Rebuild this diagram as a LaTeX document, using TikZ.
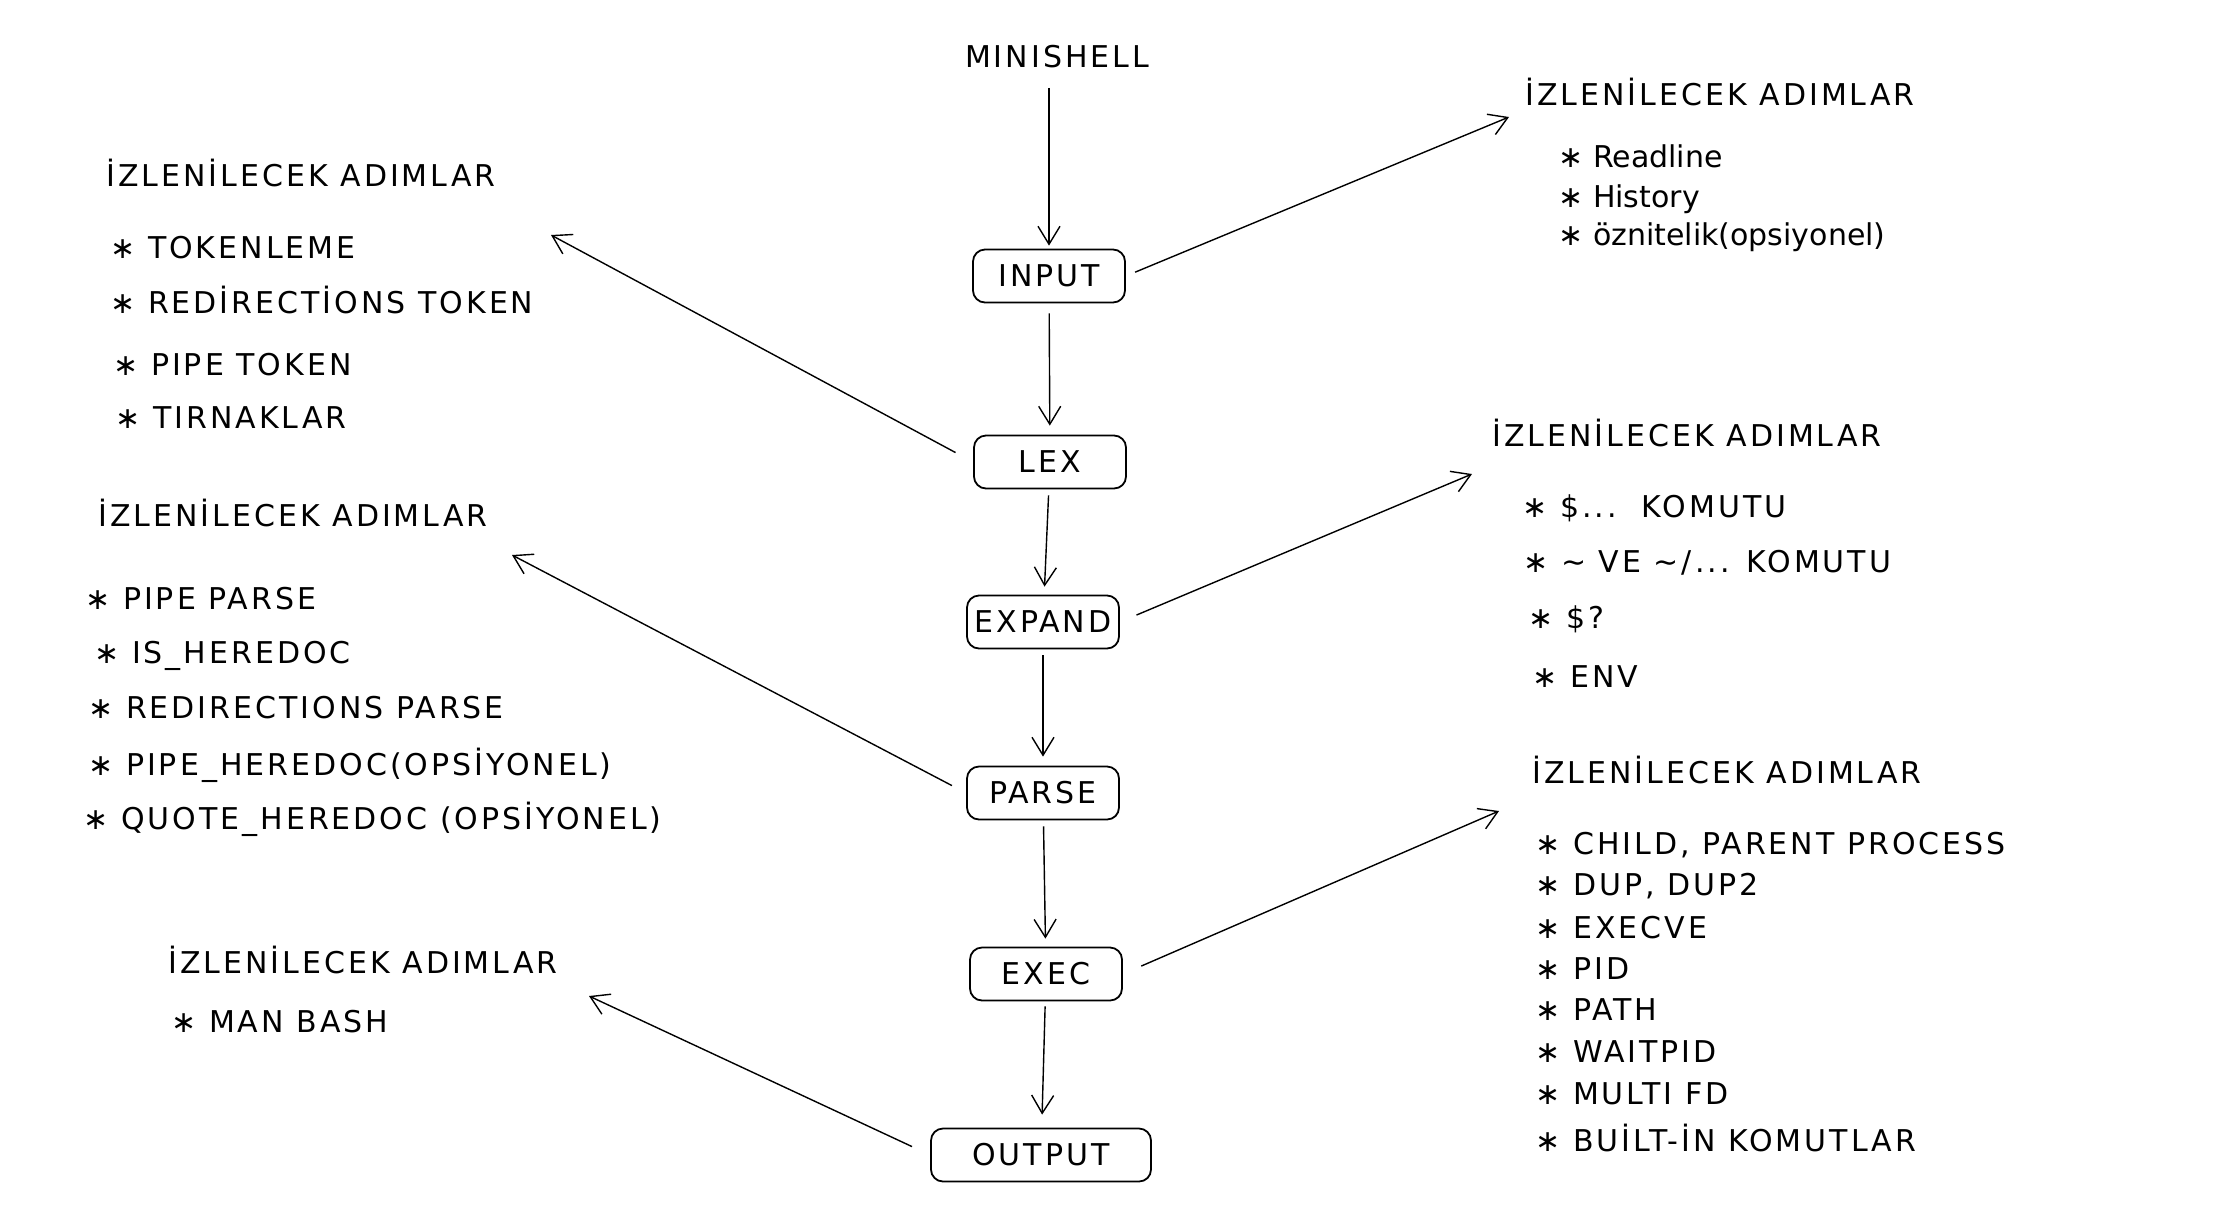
\documentclass[tikz,border=0pt]{standalone}
\usepackage{fontspec}
\newfontfamily\capsfont[LetterSpace=10]{DejaVu Sans}
\newfontfamily\plainfont{DejaVu Sans}
\usetikzlibrary{arrows.meta}

\tikzset{
  stepbox/.style={draw, rounded corners=6pt, line width=0.9pt, minimum width=76pt,
    minimum height=26.5pt, inner sep=0pt, font=\capsfont\fontsize{15}{18}\selectfont},
  head/.style={anchor=base west, inner sep=0pt, font=\capsfont\fontsize{15}{18}\selectfont},
  item/.style={head},
  lowitem/.style={anchor=base west, inner sep=0pt, font=\plainfont\fontsize{15}{18}\selectfont},
  flow/.style={-{Straight Barb[length=9pt,width=11pt]}, line width=0.7pt},
}

\begin{document}
\begin{tikzpicture}[x=0.5pt,y=-0.5pt]
  \useasboundingbox (0,0) rectangle (2232,1222);

  % main flow
  \node (minishell) [anchor=base, inner sep=0pt, font=\capsfont\fontsize{15}{18}\selectfont] at (1057,67) {MINISHELL};
  \node (input) [stepbox] at (1049,276) {INPUT};
  \node (lex) [stepbox] at (1050,462) {LEX};
  \node (expand) [stepbox] at (1043,622) {EXPAND};
  \node (parse) [stepbox] at (1043,793) {PARSE};
  \node (exec) [stepbox] at (1046,974) {EXEC};
  \node (output) [stepbox, minimum width=110pt] at (1041,1155) {OUTPUT};

  \draw[flow, shorten <=10pt, shorten >=1.5pt] (minishell.south -| input.north) -- (input);
  \draw[flow, shorten <=5pt, shorten >=4.5pt] (input) -- (lex);
  \draw[flow, shorten <=3pt, shorten >=4pt] (lex) -- (expand);
  \draw[flow, shorten <=3pt, shorten >=4.5pt] (expand) -- (parse);
  \draw[flow, shorten <=3pt, shorten >=4pt] (parse) -- (exec);
  \draw[flow, shorten <=2.5pt, shorten >=6.5pt] (exec) -- (output);

  % input
  \node (inTitle) [head] at (1525,105) {İZLENİLECEK ADIMLAR};
  \node (inReadline) [lowitem] at (1558,167) {∗ Readline};
  \node (inHistory) [lowitem] at (1558,207) {∗ History};
  \node (inAttr) [lowitem] at (1558,245) {∗ öznitelik(opsiyonel)};

  % lex
  \node (lexTitle) [head] at (106,186) {İZLENİLECEK ADIMLAR};
  \node (lexTokenleme) [item] at (110,258) {∗ TOKENLEME};
  \node (lexRedir) [item] at (110,313) {∗ REDİRECTİONS TOKEN};
  \node (lexPipe) [item] at (113,375) {∗ PIPE TOKEN};
  \node (lexQuote) [item] at (115,428) {∗ TIRNAKLAR};

  % expand
  \node (expTitle) [head] at (1492,446) {İZLENİLECEK ADIMLAR};
  \node (expDollar) [item] at (1522,517) {∗ \$...\ \ KOMUTU};
  \node (expTilde) [item] at (1523,572) {∗ \textasciitilde{} VE \textasciitilde/... KOMUTU};
  \node (expStatus) [item] at (1528,628) {∗ \$?};
  \node (expEnv) [item] at (1532,687) {∗ ENV};

  % parse
  \node (parTitle) [head] at (98,526) {İZLENİLECEK ADIMLAR};
  \node (parPipe) [item] at (85,609) {∗ PIPE PARSE};
  \node (parHeredoc) [item] at (94,663) {∗ IS\_HEREDOC};
  \node (parRedir) [item] at (88,718) {∗ REDIRECTIONS PARSE};
  \node (parPipeHd) [item] at (88,775) {∗ PIPE\_HEREDOC(OPSİYONEL)};
  \node (parQuoteHd) [item] at (83,829) {∗ QUOTE\_HEREDOC (OPSİYONEL)};

  % exec
  \node (exeTitle) [head] at (1532,783) {İZLENİLECEK ADIMLAR};
  \node (exeChild) [item] at (1535,854) {∗ CHILD, PARENT PROCESS};
  \node (exeDup) [item] at (1535,895) {∗ DUP, DUP2};
  \node (exeExecve) [item] at (1535,938) {∗ EXECVE};
  \node (exePid) [item] at (1535,979) {∗ PID};
  \node (exePath) [item] at (1535,1020) {∗ PATH};
  \node (exeWait) [item] at (1535,1062) {∗ WAITPID};
  \node (exeMulti) [item] at (1535,1104) {∗ MULTI FD};
  \node (exeBuiltin) [item] at (1535,1151) {∗ BUİLT-İN KOMUTLAR};

  % output
  \node (outTitle) [head] at (168,973) {İZLENİLECEK ADIMLAR};
  \node (outMan) [item] at (171,1032) {∗ MAN BASH};

  % side arrows
  \coordinate (toInput) at (1509,117);
  \coordinate (toLex) at (551,235);
  \coordinate (toExpand) at (1472,474);
  \coordinate (toParse) at (512,555);
  \coordinate (toExec) at (1499,811);
  \coordinate (toOutput) at (589,996);

  \draw[flow, shorten <=5pt] (input.east) -- (toInput);
  \draw[flow, shorten <=10pt] (lex.west) -- (toLex);
  \draw[flow, shorten <=9pt] (expand.east) -- (toExpand);
  \draw[flow, shorten <=8pt] (parse.west) -- (toParse);
  \draw[flow, shorten <=10pt] (exec.east) -- (toExec);
  \draw[flow, shorten <=10pt] (output.west) -- (toOutput);
\end{tikzpicture}
\end{document}
